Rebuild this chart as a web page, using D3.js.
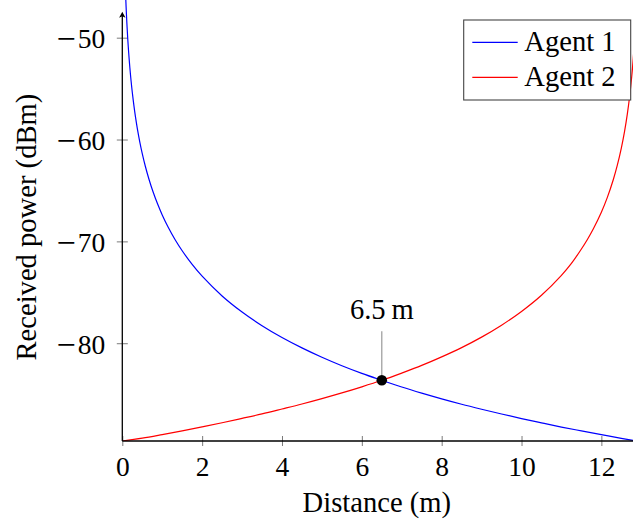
<!DOCTYPE html>
<html>
<head>
<meta charset="utf-8">
<script src="https://cdn.jsdelivr.net/npm/d3@7"></script>
<style>
  body { margin: 0; background: #fff; }
  svg { display: block; }
  text { font-family: "Liberation Serif", "Times New Roman", serif; fill: #000; }
</style>
</head>
<body>
<svg id="chart" width="633" height="523"></svg>
<script>
// Received power of each agent along the corridor (m, dBm)
const agent1Distance = [0.085, 0.095, 0.105, 0.12, 0.135, 0.15, 0.17, 0.19, 0.22, 0.25, 0.29, 0.33, 0.38, 0.44, 0.5, 0.58, 0.67, 0.77, 0.88, 1.0, 1.15, 1.32, 1.5, 1.75, 2.0, 2.5, 3.0, 3.5, 4.0, 4.5, 5.0, 5.5, 6.0, 6.5, 7.0, 7.5, 8.0, 8.5, 9.0, 9.5, 10.0, 10.5, 11.0, 11.5, 12.0, 12.5, 12.8];
const agent1Power    = [-45.99, -46.95, -47.82, -48.98, -50.01, -50.92, -52.01, -52.98, -54.25, -55.36, -56.65, -57.77, -59.0, -60.27, -61.38, -62.67, -63.92, -65.13, -66.29, -67.4, -68.61, -69.81, -70.92, -72.26, -73.42, -75.36, -76.94, -78.28, -79.44, -80.46, -81.38, -82.21, -82.96, -83.64, -84.3, -84.9, -85.46, -85.99, -86.48, -86.95, -87.4, -87.82, -88.23, -88.61, -88.98, -89.34, -89.54];

const agent2Distance = [0.0, 0.5, 1.0, 1.5, 2.0, 2.5, 3.0, 3.5, 4.0, 4.5, 5.0, 5.5, 6.0, 6.5, 7.0, 7.5, 8.0, 8.5, 9.0, 9.5, 10.0, 10.5, 11.0, 11.25, 11.5, 11.65, 11.8, 12.0, 12.15, 12.3, 12.4, 12.5, 12.58, 12.65, 12.71, 12.76, 12.8, 12.84];
const agent2Power    = [-89.6, -89.32, -88.97, -88.6, -88.21, -87.81, -87.38, -86.94, -86.46, -85.97, -85.44, -84.88, -84.28, -83.64, -82.93, -82.18, -81.34, -80.43, -79.4, -78.23, -76.88, -75.29, -73.33, -72.16, -70.75, -69.81, -68.76, -67.14, -65.68, -63.92, -62.52, -60.84, -59.22, -57.5, -55.7, -53.84, -52.01, -49.68];

const crossingDistance = [6.5];
const crossingPower = [-83.64];
const crossingLabel = ["6.5\u2009m"];

const seriesNames = ["Agent 1", "Agent 2"];
const xTickValues = [0, 2, 4, 6, 8, 10, 12];
const yTickValues = [-80, -70, -60, -50];
const xDomain = [0, 12.8];
const yDomain = [-89.6, -46.3];
const yAxisEnd = -47.45;

const colors = ["#0000ff", "#ff0000"];
const tickColor = "#7a7a7a";
const labelSize = 28.6;
const tickSize = 27.5;
const minusSize = 34;

const svg = d3.select("#chart");
const x = d3.scaleLinear().domain(xDomain).range([122.3, 633.3]);
const y = d3.scaleLinear().domain(yDomain).range([441, 0]);

// clip region for the curves
svg.append("defs").append("clipPath").attr("id", "plot-clip")
  .append("rect")
  .attr("x", x(xDomain[0])).attr("y", y(yDomain[1]))
  .attr("width", x(xDomain[1]) - x(xDomain[0]))
  .attr("height", y(yDomain[0]) - y(yDomain[1]));

// x axis
const xAxis = svg.append("g")
  .attr("transform", `translate(0,${y(yDomain[0])})`)
  .call(d3.axisBottom(x).tickValues(xTickValues).tickSizeOuter(0).tickFormat(d3.format("d")));
xAxis.select(".domain").remove();
xAxis.selectAll(".tick line").attr("y1", -5).attr("y2", 5).attr("stroke", tickColor).attr("stroke-width", 1);
xAxis.selectAll(".tick text")
  .attr("y", 35).attr("dy", 0)
  .attr("font-size", tickSize).attr("font-family", null).attr("fill", "#000");

// y axis: wide math-style minus, then a small gap before the digits
const yAxis = svg.append("g")
  .attr("transform", `translate(${x(xDomain[0])},0)`)
  .call(d3.axisLeft(y).tickValues(yTickValues).tickSizeOuter(0));
yAxis.select(".domain").remove();
yAxis.selectAll(".tick line").attr("x1", -5.5).attr("x2", 5.5).attr("stroke", tickColor).attr("stroke-width", 1);
yAxis.selectAll(".tick text")
  .attr("x", -17).attr("dy", null)
  .attr("font-size", tickSize).attr("font-family", null).attr("fill", "#000")
  .text(null)
  .each(function(d) {
    const t = d3.select(this);
    if (d < 0) {
      t.append("tspan").attr("font-size", minusSize).attr("dy", 11.8).text("\u2212");
      t.append("tspan").attr("dx", 2).attr("dy", -1.8).text(Math.abs(d));
    } else {
      t.append("tspan").attr("dy", 10).text(d);
    }
  });

// curves
const line = d3.line().x(d => x(d[0])).y(d => y(d[1])).curve(d3.curveCatmullRom.alpha(0.5));
const series = [
  d3.zip(agent1Distance, agent1Power),
  d3.zip(agent2Distance, agent2Power)
];
svg.append("g").attr("clip-path", "url(#plot-clip)")
  .selectAll("path").data(series).join("path")
  .attr("d", line)
  .attr("fill", "none")
  .attr("stroke", (d, i) => colors[i])
  .attr("stroke-width", 1.2);

// axis lines
svg.append("line")
  .attr("x1", x(xDomain[0])).attr("x2", x(xDomain[1]))
  .attr("y1", y(yDomain[0])).attr("y2", y(yDomain[0]))
  .attr("stroke", "#000").attr("stroke-width", 1.3);
svg.append("line")
  .attr("x1", x(xDomain[0])).attr("x2", x(xDomain[0]))
  .attr("y1", y(yDomain[0])).attr("y2", y(yAxisEnd) + 3)
  .attr("stroke", "#000").attr("stroke-width", 1.3);
const tipX = x(xDomain[0]), tipY = y(yAxisEnd);
svg.append("path")
  .attr("d", `M${tipX},${tipY} L${tipX + 3.2},${tipY + 6} L${tipX},${tipY + 4.6} L${tipX - 3.2},${tipY + 6} Z`)
  .attr("fill", "#000");

// crossing point with pin
const cross = svg.append("g");
crossingDistance.forEach((d, i) => {
  const cx = x(d), cy = y(crossingPower[i]);
  cross.append("line")
    .attr("x1", cx).attr("x2", cx)
    .attr("y1", cy - 49).attr("y2", cy - 5)
    .attr("stroke", "#999").attr("stroke-width", 1.2);
  cross.append("circle")
    .attr("cx", cx).attr("cy", cy).attr("r", 5.3)
    .attr("fill", "#000");
  cross.append("text")
    .attr("x", cx).attr("y", cy - 61)
    .attr("text-anchor", "middle")
    .attr("font-size", labelSize)
    .text(crossingLabel[i]);
});

// axis titles
svg.append("text")
  .attr("x", (x(xDomain[0]) + x(xDomain[1])) / 2 - 1).attr("y", 512)
  .attr("text-anchor", "middle").attr("font-size", labelSize)
  .text("Distance (m)");
svg.append("text")
  .attr("transform", `translate(36,${y(-68.6)}) rotate(-90)`)
  .attr("text-anchor", "middle").attr("font-size", labelSize)
  .text("Received power (dBm)");

// legend
const legend = svg.append("g").attr("transform", "translate(463.7,20)");
legend.append("rect")
  .attr("width", 167).attr("height", 80)
  .attr("fill", "#fff").attr("stroke", "#444").attr("stroke-width", 1.1);
seriesNames.forEach((name, i) => {
  const ly = 22.3 + i * 35;
  legend.append("line")
    .attr("x1", 8.6).attr("x2", 54)
    .attr("y1", ly).attr("y2", ly)
    .attr("stroke", colors[i]).attr("stroke-width", 1.2);
  legend.append("text")
    .attr("x", 60.6).attr("y", ly + 8.5)
    .attr("font-size", labelSize)
    .text(name);
});
</script>
</body>
</html>
